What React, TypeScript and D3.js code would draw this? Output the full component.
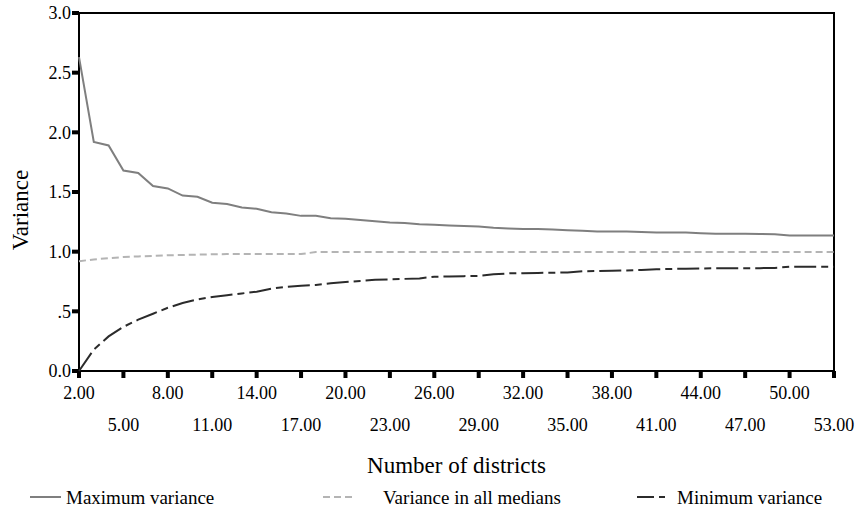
import React, { useEffect, useRef } from 'react'
import * as d3 from 'd3'

// number of districts on the x axis
const districts: number[] = d3.range(2, 54)

const maxVariance: number[] = [
  2.63, 1.92, 1.89, 1.68, 1.66, 1.55, 1.53, 1.47, 1.46, 1.41,
  1.40, 1.37, 1.36, 1.33, 1.32, 1.30, 1.30, 1.28, 1.275, 1.265,
  1.255, 1.245, 1.24, 1.23, 1.225, 1.22, 1.215, 1.21, 1.20, 1.195,
  1.19, 1.19, 1.185, 1.18, 1.175, 1.17, 1.17, 1.17, 1.165, 1.16,
  1.16, 1.16, 1.155, 1.15, 1.15, 1.15, 1.148, 1.145, 1.135, 1.135,
  1.135, 1.135,
]

const medianVariance: number[] = [
  0.92, 0.935, 0.945, 0.955, 0.96, 0.965, 0.97, 0.972, 0.975, 0.978,
  0.98, 0.98, 0.98, 0.98, 0.98, 0.98, 0.997, 0.997, 0.997, 0.997,
  0.997, 0.997, 0.997, 0.997, 0.997, 0.997, 0.997, 0.997, 0.997, 0.997,
  0.997, 0.997, 0.997, 0.997, 0.997, 0.997, 0.997, 0.997, 0.997, 0.997,
  0.997, 0.997, 0.997, 0.997, 0.997, 0.997, 0.997, 0.997, 0.997, 0.997,
  0.997, 0.997,
]

const minVariance: number[] = [
  0.0, 0.18, 0.29, 0.37, 0.43, 0.48, 0.53, 0.57, 0.60, 0.62,
  0.635, 0.65, 0.665, 0.69, 0.705, 0.715, 0.72, 0.735, 0.745, 0.755,
  0.765, 0.768, 0.772, 0.776, 0.79, 0.792, 0.795, 0.797, 0.81, 0.818,
  0.82, 0.822, 0.824, 0.826, 0.835, 0.838, 0.84, 0.843, 0.846, 0.852,
  0.855, 0.857, 0.858, 0.862, 0.862, 0.862, 0.862, 0.864, 0.873, 0.873,
  0.873, 0.873,
]

const yTicks: number[] = [0, 0.5, 1, 1.5, 2, 2.5, 3]
const yTickLabels: string[] = ['0.0', '.5', '1.0', '1.5', '2.0', '2.5', '3.0']
const xTicks: number[] = d3.range(2, 54, 3)

const seriesNames: string[] = ['Maximum variance', 'Variance in all medians', 'Minimum variance']

const font = "'Liberation Serif', Tinos, 'DejaVu Serif', serif"

export default function App() {
  const svgRef = useRef<SVGSVGElement>(null)

  useEffect(() => {
    const width = 865
    const height = 512
    const margin = { top: 13, right: 31, bottom: 141, left: 79 }

    const svg = d3.select(svgRef.current)
    svg.selectAll('*').remove()

    const x = d3.scaleLinear()
      .domain([2, 53])
      .range([margin.left, width - margin.right])

    const y = d3.scaleLinear()
      .domain([0, 3])
      .range([height - margin.bottom, margin.top])

    const x0 = x.range()[0], x1 = x.range()[1]
    const y0 = y.range()[0], y1 = y.range()[1]

    // frame
    svg.append('path')
      .attr('d', `M${x0},${y1}H${x1}V${y0}`)
      .attr('fill', 'none')
      .attr('stroke', '#000')
      .attr('stroke-width', 2)

    // y axis
    svg.append('line')
      .attr('x1', x0).attr('x2', x0).attr('y1', y1).attr('y2', y0)
      .attr('stroke', '#000').attr('stroke-width', 2)

    svg.selectAll('.ytick')
      .data(yTicks)
      .enter()
      .append('rect')
      .attr('x', x0 - 7)
      .attr('y', d => y(d) - 2)
      .attr('width', 7)
      .attr('height', 4)
      .attr('fill', '#000')

    svg.selectAll('.ylab')
      .data(yTicks)
      .enter()
      .append('text')
      .attr('x', x0 - 8)
      .attr('y', d => y(d))
      .attr('dy', '0.35em')
      .attr('text-anchor', 'end')
      .style('font-family', font)
      .style('font-size', '18px')
      .text((d, i) => yTickLabels[i])

    // x axis
    svg.append('line')
      .attr('x1', x0).attr('x2', x1).attr('y1', y0).attr('y2', y0)
      .attr('stroke', '#000').attr('stroke-width', 2)

    svg.selectAll('.xtick')
      .data(xTicks)
      .enter()
      .append('rect')
      .attr('x', d => x(d) - 2)
      .attr('y', y0)
      .attr('width', 4)
      .attr('height', 7)
      .attr('fill', '#000')

    svg.selectAll('.xlab')
      .data(xTicks)
      .enter()
      .append('text')
      .attr('x', d => x(d))
      .attr('y', (d, i) => (i % 2 === 0 ? y0 + 22 : y0 + 54))
      .attr('dy', '0.35em')
      .attr('text-anchor', 'middle')
      .style('font-family', font)
      .style('font-size', '18px')
      .text(d => d.toFixed(2))

    svg.append('text')
      .attr('x', (x0 + x1) / 2)
      .attr('y', 465)
      .attr('dy', '0.35em')
      .attr('text-anchor', 'middle')
      .style('font-family', font)
      .style('font-size', '23px')
      .text('Number of districts')

    svg.append('text')
      .attr('transform', `translate(20,210) rotate(-90)`)
      .attr('dy', '0.35em')
      .attr('text-anchor', 'middle')
      .style('font-family', font)
      .style('font-size', '23px')
      .text('Variance')

    const styles = [
      { color: '#7f7f7f', dash: null as string | null, data: maxVariance },
      { color: '#b4b4b4', dash: '7,4', data: medianVariance },
      { color: '#2b2b2b', dash: '22,5,7,5', data: minVariance },
    ]

    const line = d3.line<number>()
      .x((d, i) => x(districts[i]))
      .y(d => y(d))

    styles.forEach(s => {
      svg.append('path')
        .datum(s.data)
        .attr('d', line)
        .attr('fill', 'none')
        .attr('stroke', s.color)
        .attr('stroke-width', 2)
        .attr('stroke-dasharray', s.dash)
    })

    // legend
    const legendX = [30, 323, 637]
    const legendTextX = [66, 383, 677]
    const legendY = 497
    styles.forEach((s, i) => {
      svg.append('line')
        .attr('x1', legendX[i]).attr('x2', legendX[i] + 31)
        .attr('y1', legendY).attr('y2', legendY)
        .attr('stroke', s.color)
        .attr('stroke-width', 2)
        .attr('stroke-dasharray', i === 2 ? '17,5,6,5' : s.dash)
      svg.append('text')
        .attr('x', legendTextX[i])
        .attr('y', legendY)
        .attr('dy', '0.35em')
        .style('font-family', font)
        .style('font-size', '19px')
        .text(seriesNames[i])
    })
  }, [])

  return (
    <svg ref={svgRef} width={865} height={512} style={{ position: 'absolute', left: 0, top: 0, background: '#fff' }}></svg>
  )
}
